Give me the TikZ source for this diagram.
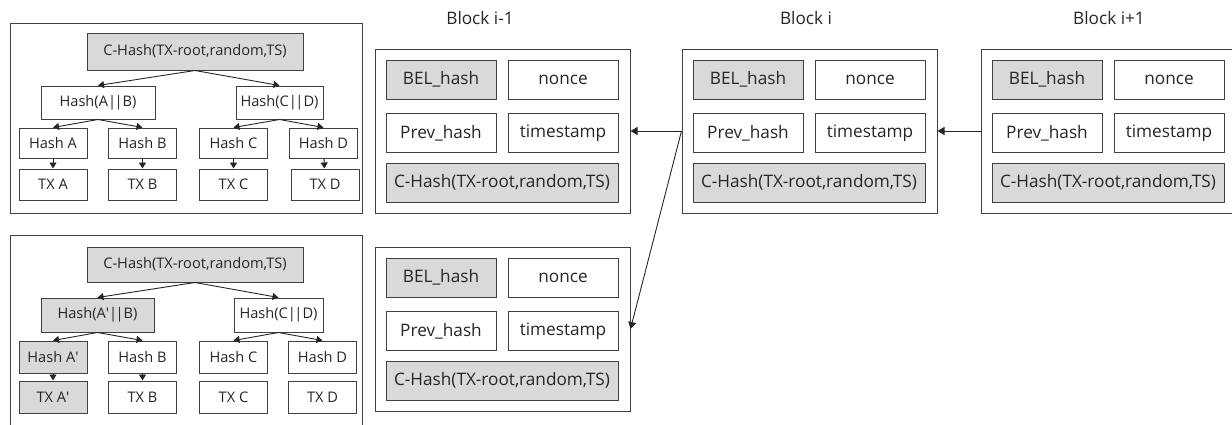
\documentclass[tikz,border=0pt]{standalone}
\usepackage{fontspec}
\setmainfont{Open Sans}
\usetikzlibrary{arrows.meta}
\definecolor{cellgray}{HTML}{D9D9D9}
\definecolor{linegray}{HTML}{404040}
\newcommand{\dbar}{|\kern-1.5pt|}
\begin{document}
\begin{tikzpicture}[x=1pt,y=-1pt,
    every node/.style={text=black!85},
    frame/.style={draw=linegray,line width=1pt,inner sep=0pt},
    cell/.style={draw=linegray,line width=1pt,fill=white,inner sep=0pt,
      minimum width=110pt,minimum height=39pt,font=\fontsize{17.2}{20}\selectfont},
    gcell/.style={cell,fill=cellgray},
    tnode/.style={draw=linegray,line width=1pt,fill=white,inner sep=0pt,
      minimum width=68pt,minimum height=31pt,font=\fontsize{14.6}{17}\selectfont},
    gtnode/.style={tnode,fill=cellgray},
    link/.style={-{Triangle[length=7pt,width=8pt]},line width=.9pt,draw=black!85},
    tlink/.style={-{Triangle[length=6pt,width=7pt]},line width=.9pt,draw=black!85}]
  \useasboundingbox (0,0) rectangle (1232,424);
  % upper merkle tree
  \node[frame,minimum width=352pt,minimum height=190pt] (utree) at (186,118) {};
  \node[gtnode,minimum width=216pt,minimum height=37pt] (ur) at (195,51.5) {C-Hash(TX-root,random,TS)};
  \node[tnode,minimum width=114pt,minimum height=33pt] (uab) at (98,102.5) {Hash(A\dbar B)};
  \node[tnode,minimum width=87pt,minimum height=33pt] (ucd) at (279.5,102.5) {Hash(C\dbar D)};
  \node[tnode,minimum height=30pt] (ua) at (53,143) {Hash A};
  \node[tnode,minimum height=30pt] (ub) at (142.5,143) {Hash B};
  \node[tnode,minimum height=30pt] (uc) at (233.5,143) {Hash C};
  \node[tnode,minimum height=30pt] (ud) at (323.5,143) {Hash D};
  \node[tnode] (uxa) at (53,184.5) {TX A};
  \node[tnode] (uxb) at (142.5,184.5) {TX B};
  \node[tnode] (uxc) at (233.5,184.5) {TX C};
  \node[tnode] (uxd) at (325,184.5) {TX D};
  \draw[tlink] (ur.south) -- (uab.north);
  \draw[tlink] (ur.south) -- (ucd.north);
  \draw[tlink] (uab.south) -- (ua.north);
  \draw[tlink] (uab.south) -- (ub.north);
  \draw[tlink] (ucd.south) -- (uc.north);
  \draw[tlink] (ucd.south) -- (ud.north);
  \draw[tlink] (ua) -- (uxa);
  \draw[tlink] (ub) -- (uxb);
  \draw[tlink] (uc) -- (uxc);
  \draw[tlink] (ud) -- (uxd);
  % lower merkle tree, A changed
  \node[frame,minimum width=352pt,minimum height=200pt] (ltree) at (186,335) {};
  \node[gtnode,minimum width=216pt,minimum height=35pt] (lr) at (195,264.5) {C-Hash(TX-root,random,TS)};
  \node[gtnode,minimum width=113pt,minimum height=34pt] (lab) at (97.5,315) {Hash(A\textquotesingle\dbar B)};
  \node[tnode,minimum width=89pt,minimum height=34pt] (lcd) at (278.5,315) {Hash(C\dbar D)};
  \node[gtnode,minimum height=32pt] (la) at (53,357) {Hash A\textquotesingle};
  \node[tnode,minimum height=32pt] (lb) at (142.5,357) {Hash B};
  \node[tnode,minimum height=32pt] (lc) at (233.5,357) {Hash C};
  \node[tnode,minimum height=32pt] (ld) at (322.5,357) {Hash D};
  \node[gtnode,minimum height=32pt] (lxa) at (53,397) {TX A\textquotesingle};
  \node[tnode,minimum height=32pt] (lxb) at (142.5,397) {TX B};
  \node[tnode,minimum height=32pt] (lxc) at (233.5,397) {TX C};
  \node[tnode,minimum height=32pt] (lxd) at (322.5,397) {TX D};
  \draw[tlink] (lr.south) -- (lab.north);
  \draw[tlink] (lr.south) -- (lcd.north);
  \draw[tlink] (lab.south) -- (la.north);
  \draw[tlink] (lab.south) -- (lb.north);
  \draw[tlink] (lcd.south) -- (lc.north);
  \draw[tlink] (lcd.south) -- (ld.north);
  \draw[tlink] (la) -- (lxa);
  \draw[tlink] (lb) -- (lxb);
  % blocks
  \foreach \bn/\bx/\by in {bprev/375/49,bcur/682/49,bnext/981/49,bfork/375/247} {
    \node[frame,minimum width=255pt,minimum height=164pt] (\bn) at (\bx+127.5,\by+82) {};
    \node[gcell] (\bn-bel) at (\bx+66,\by+30.5) {BEL\_hash};
    \node[cell] (\bn-nonce) at (\bx+188,\by+30.5) {nonce};
    \node[cell] (\bn-prev) at (\bx+66,\by+84) {Prev\_hash};
    \node[cell] (\bn-ts) at (\bx+188,\by+84) {timestamp};
    \node[gcell,minimum width=232pt] (\bn-ch) at (\bx+127,\by+133.5) {C-Hash(TX-root,random,TS)};
  }
  \node[font=\fontsize{17.2}{20}\selectfont] (lprev) at (480,18) {Block i-1};
  \node[font=\fontsize{17.2}{20}\selectfont] (lcur) at (806,18) {Block i};
  \node[font=\fontsize{17.2}{20}\selectfont] (lnext) at (1109,18) {Block i+1};
  \draw[link] (bnext.west) -- (bcur.east);
  \draw[link] (bcur.west) -- (bprev.east);
  \draw[link] (bcur.west) -- (bfork.east);
\end{tikzpicture}
\end{document}
